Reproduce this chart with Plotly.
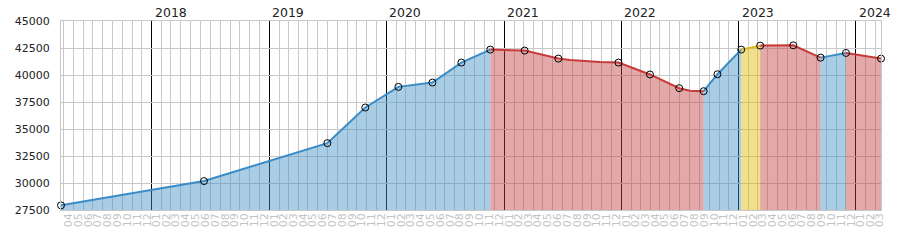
import plotly.graph_objects as go

# ---- data ----
point_dates = ["2017-03-24", "2018-06-12", "2019-07-01", "2019-10-27", "2020-02-07",
               "2020-05-23", "2020-08-21", "2020-11-19", "2021-03-06", "2021-06-19",
               "2021-12-23", "2022-03-31", "2022-06-30", "2022-09-14", "2022-10-27",
               "2023-01-09", "2023-03-09", "2023-06-20", "2023-09-13", "2023-12-01",
               "2024-03-19"]
point_values = [27930, 30180, 33690, 36990, 38900,
                39300, 41150, 42350, 42260, 41520,
                41150, 40050, 38780, 38500, 40070,
                42350, 42720, 42750, 41610, 42040,
                41520]
# intermediate vertices of the line (no marker)
extra_dates = ["2021-07-25", "2021-10-26", "2022-08-02"]
extra_values = [41400, 41200, 38550]
# state of each interval between consecutive marked points
interval_state = (["up"] * 7 + ["down"] * 6 + ["up"] * 2 + ["flat"]
                  + ["down"] * 2 + ["up"] + ["down"])
year_labels = ["2018", "2019", "2020", "2021", "2022", "2023", "2024"]
y_ticks = [27500, 30000, 32500, 35000, 37500, 40000, 42500, 45000]
x_range = ["2017-03-24", "2024-03-19"]

# ---- styles ----
fill_col = {"up": "rgba(62,144,195,0.45)", "down": "rgba(193,62,62,0.45)",
            "flat": "rgba(226,184,0,0.45)"}
line_col = {"up": "#3a8cc6", "down": "#c83a3a", "flat": "#e2b414"}

# merge all vertices for the line
allpts = sorted(list(zip(point_dates, point_values)) + list(zip(extra_dates, extra_values)))

# group intervals into runs of equal state
runs = []
start = 0
for i in range(1, len(interval_state) + 1):
    if i == len(interval_state) or interval_state[i] != interval_state[start]:
        runs.append((start, i, interval_state[start]))
        start = i

def run_points(a, b):
    d0, d1 = point_dates[a], point_dates[b]
    pts = [p for p in allpts if d0 <= p[0] <= d1]
    return [p[0] for p in pts], [p[1] for p in pts]

fig = go.Figure()
for a, b, st in runs:
    xs, ys = run_points(a, b)
    fig.add_trace(go.Scatter(x=xs, y=ys, mode="none", fill="tozeroy",
                             fillcolor=fill_col[st], hoverinfo="skip", showlegend=False))
for a, b, st in runs:
    xs, ys = run_points(a, b)
    fig.add_trace(go.Scatter(x=xs, y=ys, mode="lines",
                             line=dict(color=line_col[st], width=2),
                             hoverinfo="skip", showlegend=False))
fig.add_trace(go.Scatter(x=point_dates, y=point_values, mode="markers",
                         marker=dict(symbol="circle-open", size=7,
                                     line=dict(color="black", width=1), color="black"),
                         cliponaxis=False, showlegend=False))

annotations = []
for yl in year_labels:
    annotations.append(dict(x=f"{yl}-01-01", y=1, xref="x", yref="paper", text=yl,
                            showarrow=False, xanchor="left", yanchor="bottom", xshift=1,
                            yshift=-1,
                            font=dict(family="DejaVu Sans", size=12.5, color="#222")))

fig.update_layout(
    width=900, height=250,
    margin=dict(l=61, r=19, t=21, b=40),
    paper_bgcolor="white", plot_bgcolor="white",
    annotations=annotations,
    font=dict(family="DejaVu Sans", size=11),
    xaxis=dict(
        type="date", range=x_range, dtick="M12", tick0="2018-01-01",
        showticklabels=False, showgrid=True, gridcolor="black", gridwidth=1,
        minor=dict(dtick="M1", showgrid=True, gridcolor="#c8c8c8", gridwidth=1),
        showline=True, linecolor="#c8c8c8", mirror=True, ticks="", automargin=False,
        zeroline=False,
    ),
    xaxis2=dict(
        type="date", range=x_range, overlaying="x", side="bottom", anchor="y",
        dtick="M1", tick0="2017-01-01", tickformat="%m", ticklabelmode="period",
        tickangle=-90, showgrid=False, showline=False, ticks="", automargin=False,
        tickfont=dict(family="DejaVu Sans", size=11, color="#c4c4c4"), zeroline=False,
    ),
    yaxis=dict(
        range=[27500, 45000], tickvals=y_ticks, tickformat="d", showgrid=True,
        gridcolor="#c8c8c8", gridwidth=1,
        tickfont=dict(family="DejaVu Sans", size=11, color="#222"),
        showline=True, linecolor="#c8c8c8", mirror=True, ticks="", automargin=False,
        zeroline=False, ticklabelstandoff=8,
    ),
)
# invisible trace to activate the label axis
fig.add_trace(go.Scatter(x=x_range, y=[None, None], xaxis="x2", yaxis="y",
                         mode="lines", showlegend=False, hoverinfo="skip"))

fig.write_html("out.html")
